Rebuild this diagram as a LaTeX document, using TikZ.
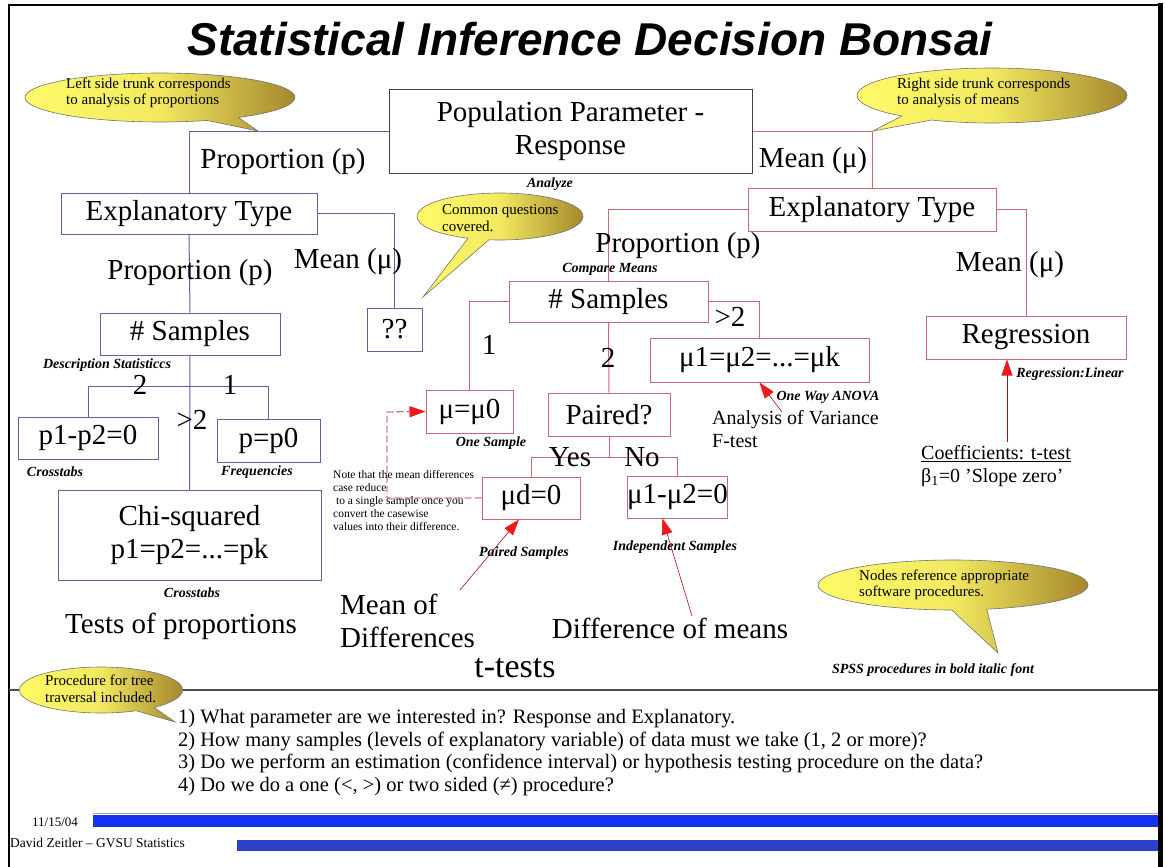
\documentclass[tikz,border=0pt]{standalone}
\usepackage{fontspec}
\setmainfont{Liberation Serif}
\newfontfamily\titlefont{Liberation Sans}
\usepackage{xcolor}
\usetikzlibrary{arrows.meta,shapes.callouts}

\definecolor{lbox}{RGB}{95,95,170}
\definecolor{rbox}{RGB}{205,105,115}
\definecolor{bubA}{RGB}{255,250,105}
\definecolor{bubB}{RGB}{165,135,45}
\definecolor{barA}{RGB}{20,50,240}
\definecolor{barB}{RGB}{45,65,205}
\definecolor{arrred}{RGB}{235,25,25}
\newcommand{\fsz}[2]{\fontsize{#1}{#2}\selectfont}

\begin{document}
\begin{tikzpicture}[x=1pt,y=-1pt,
  every node/.style={inner sep=0pt},
  lbx/.style={draw=lbox,line width=1pt,align=center,font=\fsz{29}{33}},
  rbx/.style={draw=rbox,line width=1pt,align=center,font=\fsz{29}{33}},
  big/.style={font=\fsz{29}{33}},
  mid/.style={font=\fsz{20}{22.5},align=left},
  spss/.style={font=\fsz{14}{16}\bfseries\itshape},
  small/.style={font=\fsz{15}{16.5},align=left},
  bubble/.style={ellipse callout,draw=black!55,line width=0.6pt,
    left color=bubA,right color=bubB,middle color=bubA!85!bubB},
  ltrunk/.style={draw=lbox,line width=1pt},
  rtrunk/.style={draw=rbox,line width=1pt},
  pointer/.style={draw=arrred!70!black,line width=0.6pt,
    -{Triangle[length=16pt,width=11pt,color=arrred]}}]
\useasboundingbox (0,0) rectangle (1165,867);

% frame and title
\draw[line width=2.5pt] (9,870) -- (9,5) -- (1158,5);
\draw[line width=5pt] (1160,3) -- (1160,870);
\node[font=\titlefont\fsz{46}{50}\bfseries\itshape] (title) at (590,39) {Statistical Inference Decision Bonsai};

% root
\node[draw=black!75,line width=1pt,align=center,font=\fsz{29}{33},minimum width=363pt,minimum height=83pt] (root) at (570.5,131.5) {Population Parameter -\\Response};
\node[spss] (analyze) at (550,184) {Analyze};

% left trunk: proportions
\node[lbx,minimum width=256pt,minimum height=41pt] (ltype) at (189,213.5) {Explanatory Type};
\node[lbx,minimum width=55pt,minimum height=43pt] (qq) at (394.5,329.5) {??};
\node[lbx,minimum width=180pt,minimum height=42pt] (lsamp) at (190,334) {\# Samples};
\node[lbx,minimum width=140pt,minimum height=42pt] (p1p2) at (88,438) {p1-p2=0};
\node[lbx,minimum width=103pt,minimum height=43pt] (pp0) at (268.5,440.5) {p=p0};
\node[lbx,minimum width=263pt,minimum height=90pt] (chi) at (189.5,535) {Chi-squared\\p1=p2=...=pk};
\coordinate (lfork) at (190,386);

\draw[ltrunk] (root.west) -| (ltype.north);
\draw[ltrunk] (ltype.east) -| (qq.north);
\draw[ltrunk] (ltype.south) -- (lsamp.north);
\draw[ltrunk] (lsamp.south) -- (chi.north);
\draw[ltrunk] (p1p2.north) |- (pp0.north |- lfork) -- (pp0.north);

\node[big] (lprop) at (283,162) {Proportion (p)};
\node[big] (lmean) at (348,262) {Mean (μ)};
\node[big] (lprop2) at (190,273) {Proportion (p)};
\node[spss] (descr) at (107,365) {Description Statisticcs};
\node[big] (ltwo) at (140,385) {2};
\node[big] (lone) at (230,385) {1};
\node[big] (lmore) at (192,420) {>2};
\node[spss] (cross1) at (55,472) {Crosstabs};
\node[spss] (freq) at (257,472) {Frequencies};
\node[spss] (cross2) at (192,593) {Crosstabs};
\node[big] (ltests) at (181,626) {Tests of proportions};

% right trunk: means
\node[rbx,minimum width=248pt,minimum height=43pt] (rtype) at (872,209.5) {Explanatory Type};
\node[rbx,minimum width=199pt,minimum height=41pt] (rsamp) at (608.5,301.5) {\# Samples};
\node[rbx,minimum width=87pt,minimum height=43pt] (mu0) at (469.5,411.5) {μ=μ0};
\node[rbx,minimum width=122pt,minimum height=43pt] (paired) at (609,414.5) {Paired?};
\node[rbx,minimum width=219pt,minimum height=44pt] (anova) at (759.5,360) {μ1=μ2=...=μk};
\node[rbx,minimum width=98pt,minimum height=42pt] (mud) at (531,498) {μd=0};
\node[rbx,minimum width=99pt,minimum height=42pt] (mudiff) at (677.5,497) {μ1-μ2=0};
\node[rbx,minimum width=200pt,minimum height=43pt] (regr) at (1026,337.5) {Regression};
\coordinate (pfork) at (609,457);
\coordinate (dashc) at (387,412);

\draw[rtrunk] (root.east) -| (rtype.north);
\draw[rtrunk] (rtype.east) -| (regr.north);
\draw[rtrunk] (rtype.west) -| (rsamp.north);
\draw[rtrunk] (rsamp.west) -| (mu0.north);
\draw[rtrunk] (rsamp.south) -- (paired.north);
\draw[rtrunk] (rsamp.east) -| (anova.north);
\draw[rtrunk] (paired.south) -- (pfork);
\draw[rtrunk] (mud.north) |- (mudiff.north |- pfork) -- (mudiff.north);
\draw[draw=arrred!80!black,line width=0.8pt,dash pattern=on 7pt off 3pt,
  -{Triangle[length=16pt,width=11pt,color=arrred]}] (mud.west) -| (dashc) -- (mu0.west);

\node[big] (rmean) at (813,161) {Mean (μ)};
\node[big] (rprop) at (678,246) {Proportion (p)};
\node[spss] (cmpm) at (610,269) {Compare Means};
\node[big] (rmean2) at (1010,265) {Mean (μ)};
\node[big] (rone) at (489,345) {1};
\node[big] (rtwo) at (608,358) {2};
\node[big] (rmore) at (730,317) {>2};
\node[spss] (onesamp) at (491,443) {One Sample};
\node[spss] (oneway) at (828,397) {One Way ANOVA};
\node[mid,anchor=west] (anovatxt) at (712,429) {Analysis of Variance\\F-test};
\node[big] (yes) at (570,457) {Yes};
\node[big] (no) at (642,457) {No};
\node[spss] (pairsamp) at (524,553) {Paired Samples};
\node[spss] (indsamp) at (675,547) {Independent Samples};
\node[font=\fsz{11.5}{13},align=left,anchor=north west] (note) at (333,470)
  {Note that the mean differences\\case reduce\\\ to a single sample once you\\convert the casewise\\values into their difference.};
\node[big,align=left,anchor=west] (meandiff) at (340,621) {Mean of\\Differences};
\node[big] (diffmeans) at (670,628) {Difference of means};
\node[font=\fsz{34}{38}] (ttests) at (515,668) {t-tests};
\node[spss] (reglin) at (1070,374) {Regression:Linear};
\node[mid,anchor=west] (coef) at (921,466) {\underline{Coefficients: t-test}\\β\textsubscript{1}=0 'Slope zero'};
\node[spss] (spssnote) at (933,670) {SPSS procedures in bold italic font};

\coordinate (avtail) at (782,412);
\coordinate (mdtail) at (460,590);
\coordinate (dmtail) at (692,616);
\coordinate (cftail) at (1007,442);
\draw[pointer] (avtail) -- (anova.south);
\draw[pointer] (mdtail) -- ([xshift=-12pt]mud.south);
\draw[pointer] (dmtail) -- ([xshift=-15pt]mudiff.south);
\draw[pointer] (cftail) -- (cftail |- regr.south);

% callouts
\node[bubble,minimum width=270pt,minimum height=49pt,callout absolute pointer={(258,131)}] (lbub) at (160,97.5) {};
\node[small,anchor=west] (lbubtxt) at (66,93) {Left side trunk corresponds\\to analysis of proportions};
\node[bubble,minimum width=270pt,minimum height=55pt,callout absolute pointer={(873,131)}] (rbub) at (992,95.5) {};
\node[small,anchor=west] (rbubtxt) at (897,93) {Right side trunk corresponds\\to analysis of means};
\node[bubble,minimum width=166pt,minimum height=47pt,callout absolute pointer={(423,297)}] (cbub) at (500,216.5) {};
\node[small,anchor=west] (cbubtxt) at (442,218) {Common questions\\covered.};
\node[bubble,minimum width=270pt,minimum height=50pt,callout absolute pointer={(998,653)}] (nbub) at (953,585) {};
\node[small,anchor=west] (nbubtxt) at (859,585) {Nodes reference appropriate\\software procedures.};
\node[bubble,minimum width=163pt,minimum height=46pt,callout absolute pointer={(175,722)}] (pbub) at (101,690) {};
\node[small,anchor=west] (pbubtxt) at (45,689) {Procedure for tree\\traversal included.};

% traversal questions
\draw[black!70,line width=1.2pt] (9,690) -- (pbub.west) (pbub.east) -- (1158,690);
\node[font=\fsz{20.5}{22.7},align=left,anchor=north west] (steps) at (178,709)
  {1) What parameter are we interested in? Response and Explanatory.\\
   2) How many samples (levels of explanatory variable) of data must we take (1, 2 or more)?\\
   3) Do we perform an estimation (confidence interval) or hypothesis testing procedure on the data?\\
   4) Do we do a one (<, >) or two sided (≠) procedure?};

% footer
\draw[black!35,line width=0.8pt] (93,813) -- (1158,813);
\fill[barA] (93,815) rectangle (1158,827);
\fill[barB] (237,840) rectangle (1158,851);
\node[font=\fsz{13}{15}] (date) at (55,822) {11/15/04};
\node[font=\fsz{13.5}{15},anchor=west] (author) at (10,843) {David Zeitler – GVSU Statistics};
\end{tikzpicture}
\end{document}
